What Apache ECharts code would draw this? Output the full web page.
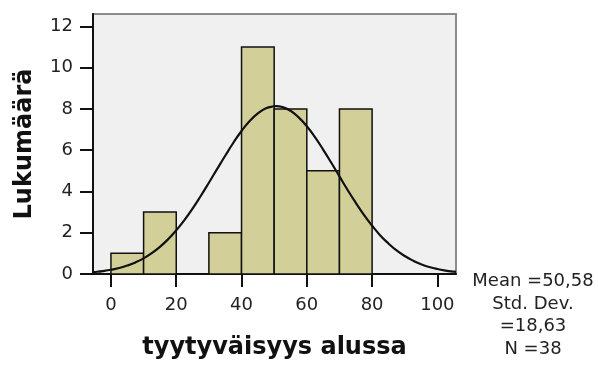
<!DOCTYPE html>
<html><head><meta charset="utf-8">
<script src="https://cdn.jsdelivr.net/npm/echarts@6/dist/echarts.min.js"></script>
<style>html,body{margin:0;padding:0;background:#fff}#c{width:598px;height:365px}</style>
</head><body><div id="c"></div>
<script>
// Histogram bins: [start, end]
var binStarts = [0, 10, 20, 30, 40, 50, 60, 70];
var binEnds   = [10, 20, 30, 40, 50, 60, 70, 80];
var counts    = [1, 3, 0, 2, 11, 8, 5, 8];
// Normal curve
var curveX = [-5.5,-5,-2.5,0,2.5,5,7.5,10,12.5,15,17.5,20,22.5,25,27.5,30,32.5,35,37.5,40,42.5,45,47.5,50,50.58,52.5,55,57.5,60,62.5,65,67.5,70,72.5,75,77.5,80,82.5,85,87.5,90,92.5,95,97.5,100,102.5,105,105.7];
var curveY = [0.09,0.095,0.141,0.204,0.291,0.408,0.562,0.759,1.007,1.313,1.681,2.115,2.613,3.17,3.78,4.42,5.08,5.73,6.36,6.93,7.41,7.78,8.03,8.13,8.14,8.09,7.91,7.59,7.16,6.63,6.03,5.39,4.73,4.07,3.45,2.86,2.34,1.87,1.48,1.14,0.87,0.65,0.47,0.34,0.24,0.167,0.114,0.105];
var xTicks = [0, 20, 40, 60, 80, 100];
var yTicks = [0, 2, 4, 6, 8, 10, 12];
var statLines = ['Mean =50,58', 'Std. Dev.', '=18,63', 'N =38'];
var xTitle = 'tyytyväisyys alussa';
var yTitle = 'Lukumäärä';

var font = 'DejaVu Sans';
var barData = binStarts.map(function(s, i){ return [s, binEnds[i], counts[i]]; });
var lineData = curveX.map(function(x, i){ return [x, curveY[i]]; });

var chart = echarts.init(document.getElementById('c'), null, {renderer:'canvas'});
chart.setOption({
  animation: false,
  backgroundColor: '#ffffff',
  grid: {left: 93, top: 14, right: 142, bottom: 89, show: true, backgroundColor: '#f0f0f0', borderColor: '#8c8c8c', borderWidth: 2},
  xAxis: {
    type: 'value', min: -5.5, max: 105.7,
    name: xTitle, nameLocation: 'middle', nameGap: 62,
    nameTextStyle: {fontFamily: font, fontSize: 24, fontWeight: 'bold', color: '#111'},
    axisLine: {show: true, onZero: false, lineStyle: {color: '#111', width: 2}},
    axisTick: {show: true, length: 13, customValues: xTicks, lineStyle: {color: '#111', width: 2}},
    axisLabel: {customValues: xTicks, margin: 22, fontFamily: font, fontSize: 18, color: '#222'},
    splitLine: {show: false}
  },
  yAxis: {
    type: 'value', min: 0, max: 12.6,
    name: yTitle, nameLocation: 'middle', nameGap: 56,
    nameTextStyle: {fontFamily: font, fontSize: 24, fontWeight: 'bold', color: '#111'},
    axisLine: {show: true, onZero: false, lineStyle: {color: '#111', width: 2}},
    axisTick: {show: true, length: 13, customValues: yTicks, lineStyle: {color: '#111', width: 2}},
    axisLabel: {customValues: yTicks, margin: 20, fontFamily: font, fontSize: 18, color: '#222'},
    splitLine: {show: false}
  },
  series: [
    {
      type: 'custom',
      data: barData,
      encode: {x: [0, 1], y: 2},
      renderItem: function(params, api){
        var s = api.coord([api.value(0), api.value(2)]);
        var e = api.coord([api.value(1), 0]);
        if (api.value(2) <= 0) return null;
        return {
          type: 'rect',
          shape: {x: s[0], y: s[1], width: e[0] - s[0], height: e[1] - s[1]},
          style: {fill: '#d3cf98', stroke: '#111', lineWidth: 1.5}
        };
      },
      z: 2
    },
    {
      type: 'line', data: lineData, smooth: true, showSymbol: false,
      lineStyle: {color: '#111', width: 2.2}, z: 3
    }
  ],
  graphic: [{
    type: 'text', x: 533, y: 270,
    style: {
      text: statLines.join('\n'), fontFamily: font, fontSize: 18, lineHeight: 22.7,
      fill: '#222', align: 'center', verticalAlign: 'top'
    }
  }]
});
</script></body></html>
